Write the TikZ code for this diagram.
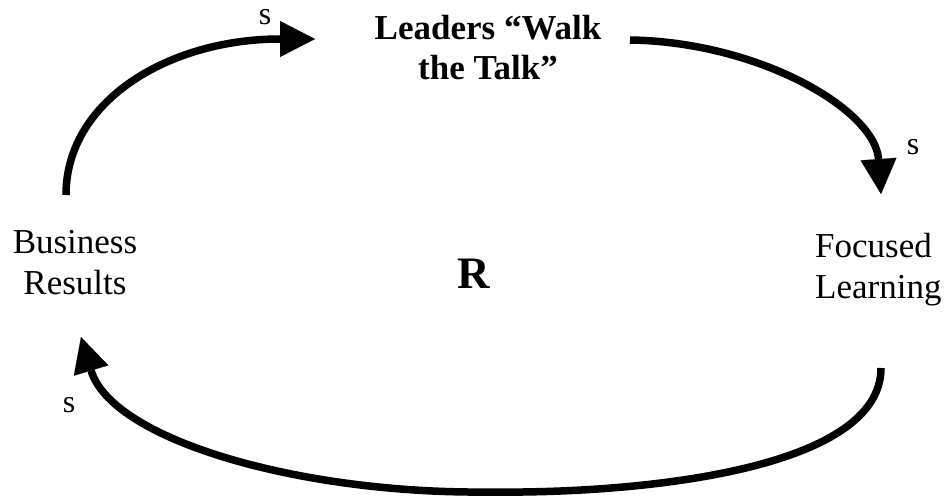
\documentclass[tikz,border=0pt]{standalone}
\usepackage{fontspec}
\setmainfont{Liberation Serif}
\usetikzlibrary{arrows.meta}
\begin{document}
\begin{tikzpicture}[x=1pt,y=-1pt,
  loopline/.style={line width=7.5pt, -{Triangle[length=35pt,width=36pt,line width=0.1pt]}},
  plainline/.style={line width=7.5pt},
  lbl/.style={inner sep=0pt, font=\fontsize{35}{41}\selectfont},
  pol/.style={inner sep=0pt, anchor=base, font=\fontsize{32}{38}\selectfont}]
\useasboundingbox (0,0) rectangle (950,497);
\node[lbl, anchor=north, align=center] (br) at (75,230) {Business\\Results};
\node[lbl, anchor=north, align=center, font=\fontsize{35}{40}\selectfont\bfseries] (wt) at (488,15) {Leaders “Walk\\the Talk”};
\node[lbl, anchor=north west, align=left] (fl) at (815,233) {Focused\\Learning};
\node[inner sep=0pt, anchor=base, font=\fontsize{45}{50}\selectfont\bfseries] (r) at (474,288) {R};
\node[pol] (s1) at (265,25) {s};
\node[pol] (s2) at (913,155) {s};
\node[pol] (s3) at (69,412) {s};
\coordinate (a1s) at (66,195);
\coordinate (a1e) at (315,39);
\coordinate (a2s) at (630,40);
\coordinate (a2e) at (881,194);
\coordinate (a3s) at (881,368);
\coordinate (a3m) at (488,492);
\coordinate (a3e) at (81,337);
\draw[loopline] (a1s) .. controls (66,100) and (170,39) .. (a1e);
\draw[loopline] (a2s) .. controls (760,42) and (875,110) .. (a2e);
\draw[plainline] (a3s) .. controls (881,470) and (640,494) .. (a3m);
\draw[loopline] (a3m) .. controls (300,494) and (112,440) .. (a3e);
\end{tikzpicture}
\end{document}
